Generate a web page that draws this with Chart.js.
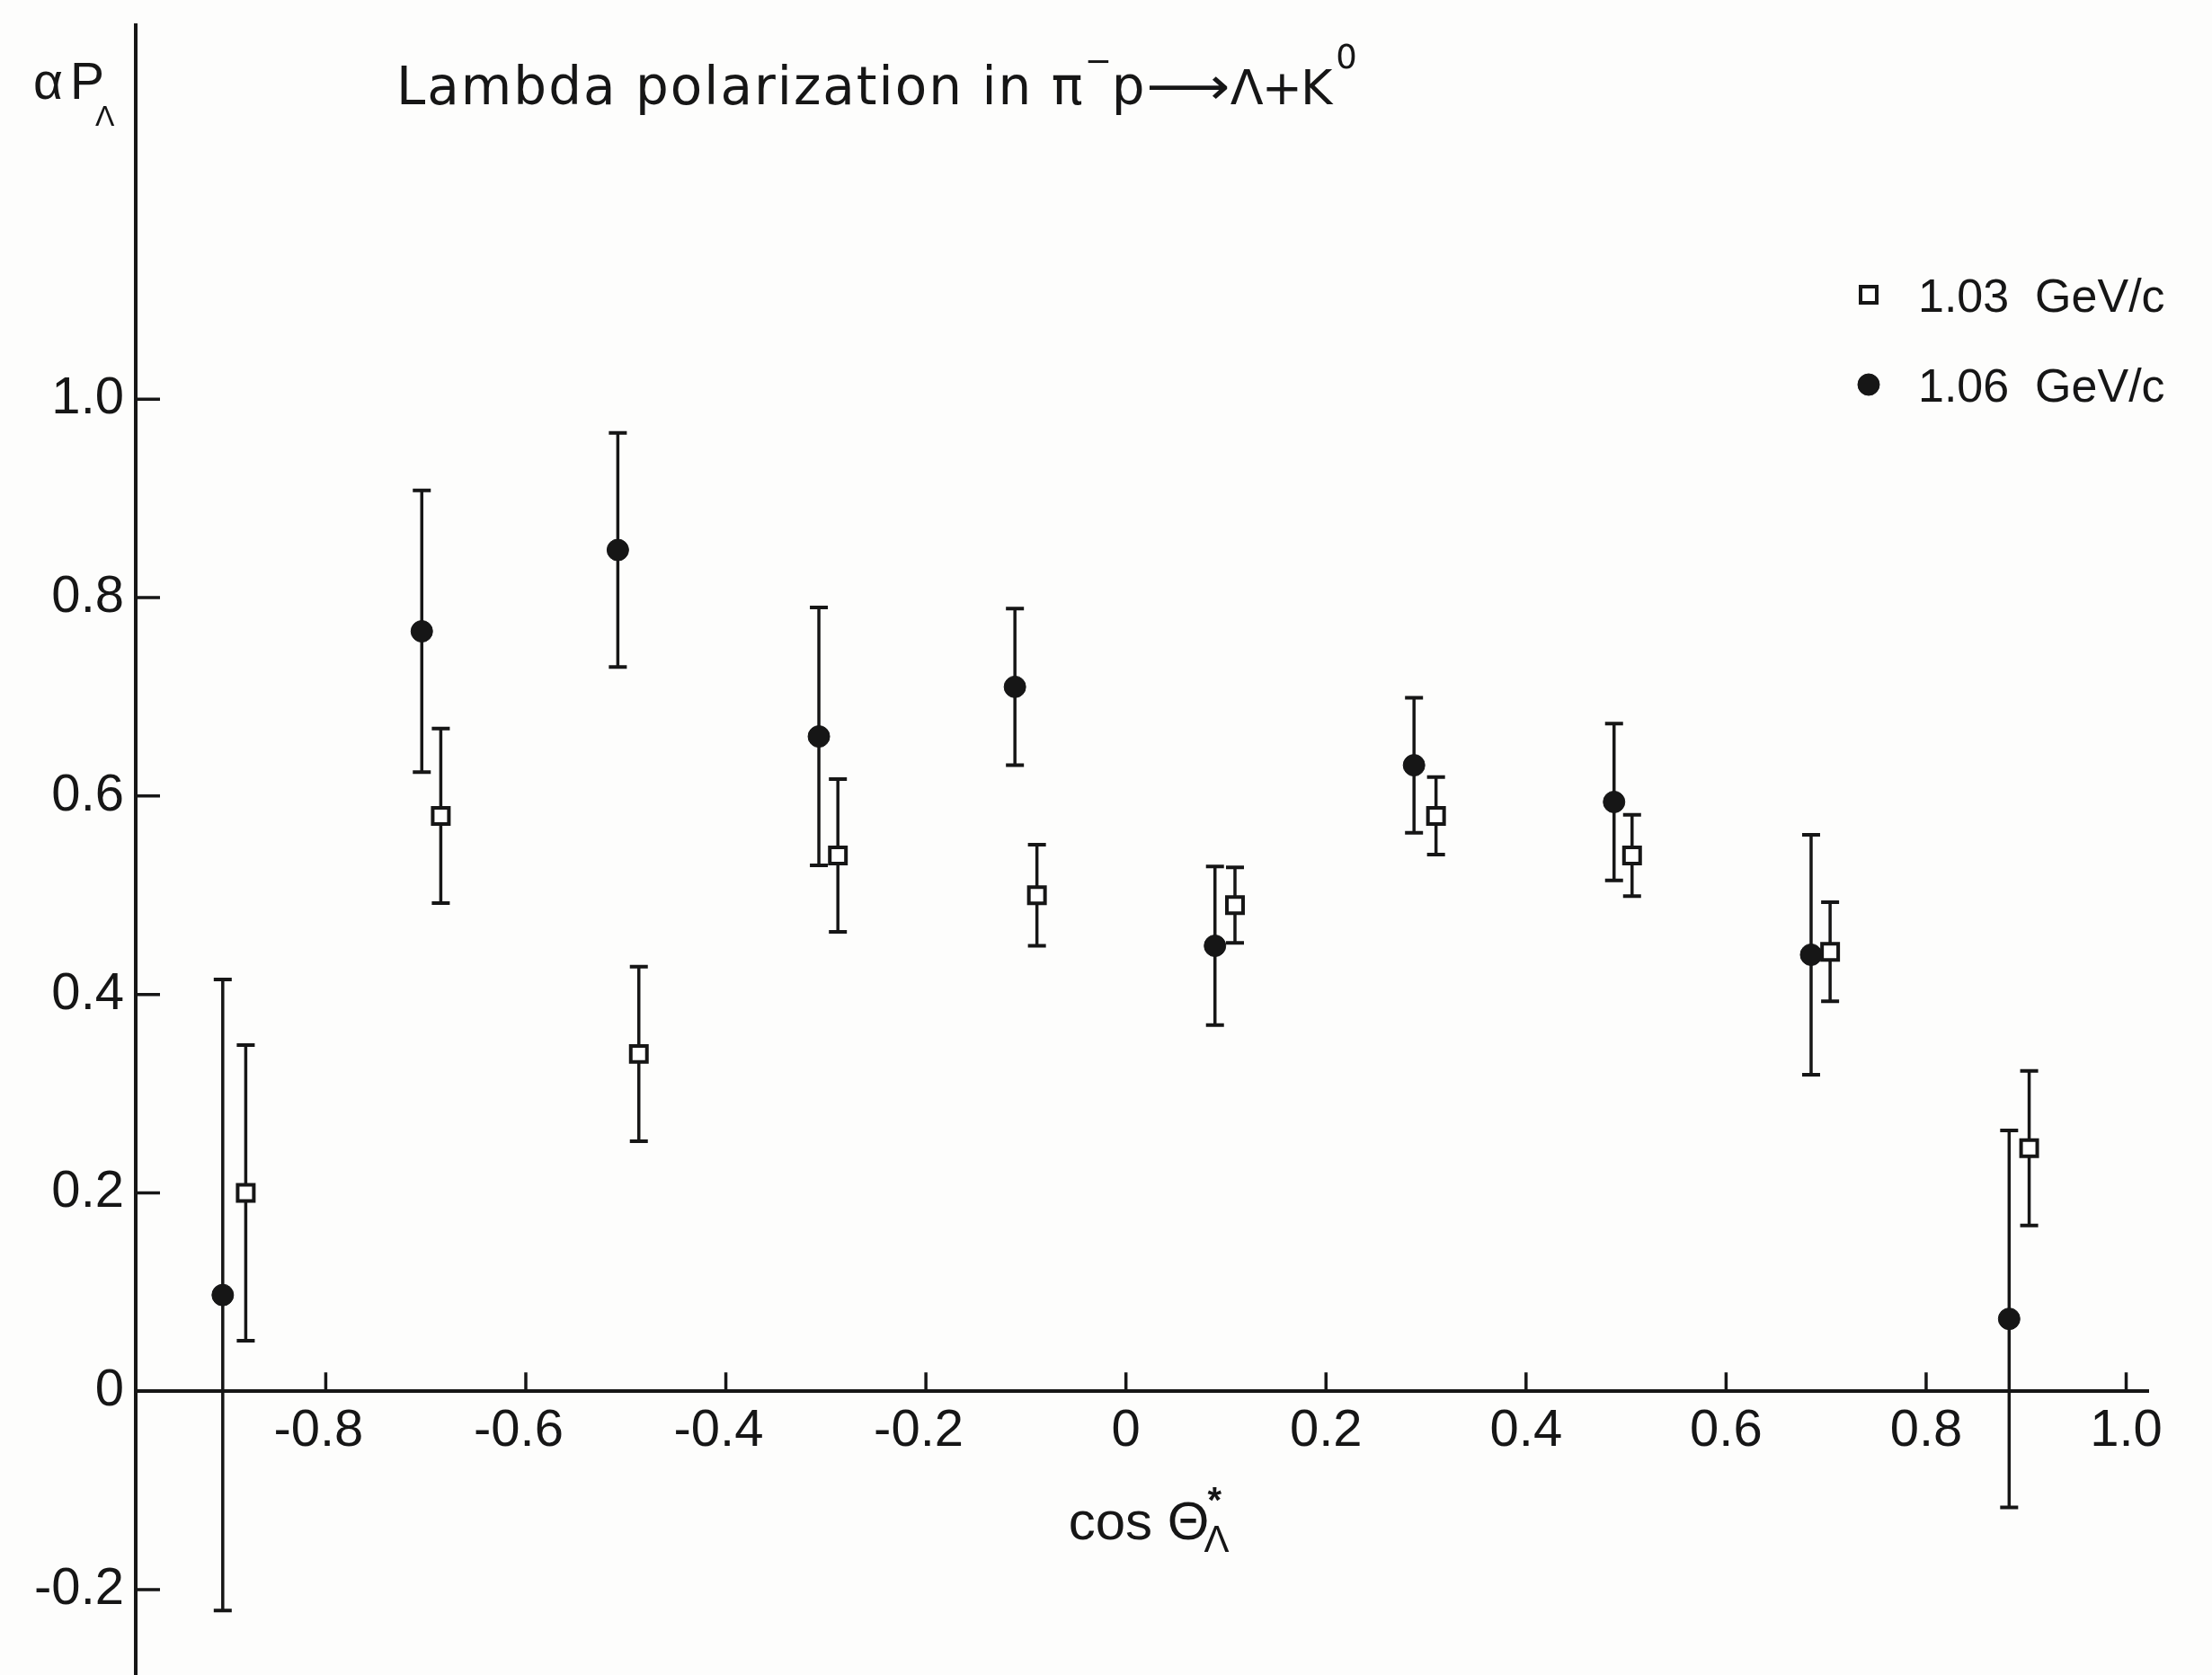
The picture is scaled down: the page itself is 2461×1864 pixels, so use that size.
<!DOCTYPE html>
<html>
<head>
<meta charset="utf-8">
<script src="https://cdn.jsdelivr.net/npm/chart.js@4.4.0/dist/chart.umd.min.js"></script>
<style>
  html, body { margin: 0; padding: 0; background: #fdfdfc; }
  #wrap { width: 2461px; height: 1864px; }
</style>
</head>
<body>
<div id="wrap"><canvas id="chart" width="2461" height="1864"></canvas></div>
<script>
const SANS = '"Liberation Sans", Arial, sans-serif';
const WIDE = '"DejaVu Sans", sans-serif';
const INK = '#161616';
const TICK_SIZE = 58;

// 1.03 GeV/c -- open squares
const cos103 = [-0.880, -0.685, -0.487, -0.288, -0.089, 0.109, 0.310, 0.506, 0.704, 0.903];
const pol103 = [0.200, 0.580, 0.340, 0.540, 0.500, 0.490, 0.580, 0.540, 0.443, 0.245];
const err103 = [0.149, 0.088, 0.088, 0.077, 0.051, 0.038, 0.039, 0.041, 0.050, 0.078];

// 1.06 GeV/c -- filled circles
const cos106 = [-0.903, -0.704, -0.508, -0.307, -0.111, 0.089, 0.288, 0.488, 0.685, 0.883];
const pol106 = [0.097, 0.766, 0.848, 0.660, 0.710, 0.449, 0.631, 0.594, 0.440, 0.073];
const err106 = [0.318, 0.142, 0.118, 0.130, 0.079, 0.080, 0.068, 0.079, 0.121, 0.190];

const xTicks = [-0.8, -0.6, -0.4, -0.2, 0, 0.2, 0.4, 0.6, 0.8, 1.0];
const yTicks = [-0.2, 0, 0.2, 0.4, 0.6, 0.8, 1.0];

const fmt = v => (Math.abs(v) < 1e-9 ? '0' : v.toFixed(1));

/** Draw text pieces left to right; each piece may carry its own size, shift and font */
function richText(ctx, parts, x, baseY) {
  let cx = x;
  ctx.textAlign = 'left';
  ctx.textBaseline = 'alphabetic';
  for (const p of parts) {
    ctx.font = `${p.bold ? 'bold ' : ''}${p.size}px ${p.font || SANS}`;
    ctx.letterSpacing = p.ls || '0px';
    const px = cx + (p.dx || 0);
    const w = ctx.measureText(p.t).width * (p.sx || 1);
    ctx.save();
    ctx.translate(px, baseY + (p.dy || 0));
    ctx.scale(p.sx || 1, 1);
    ctx.fillText(p.t, 0, 0);
    ctx.restore();
    if (!p.stay) cx = px + w;
  }
  ctx.letterSpacing = '0px';
}

const decor = {
  id: 'decor',
  beforeDatasetsDraw(chart) {
    const { ctx, chartArea, scales: { x, y } } = chart;
    const y0 = y.getPixelForValue(0);
    ctx.save();
    ctx.strokeStyle = INK;
    ctx.lineCap = 'butt';

    // tick marks pointing into the plot
    ctx.lineWidth = 3.5;
    ctx.beginPath();
    for (const v of yTicks) {
      if (v === 0) continue;
      const py = y.getPixelForValue(v);
      ctx.moveTo(chartArea.left, py);
      ctx.lineTo(chartArea.left + 27, py);
    }
    for (const v of xTicks) {
      const px = x.getPixelForValue(v);
      ctx.moveTo(px, y0);
      ctx.lineTo(px, y0 - 21);
    }
    ctx.stroke();

    // error bars
    chart.data.datasets.forEach((ds, i) => {
      const meta = chart.getDatasetMeta(i);
      meta.data.forEach((pt, j) => {
        const d = ds.data[j];
        const top = y.getPixelForValue(d.y + ds.errors[j]);
        const bot = y.getPixelForValue(d.y - ds.errors[j]);
        ctx.lineWidth = 3.5;
        ctx.beginPath();
        ctx.moveTo(pt.x, top);
        ctx.lineTo(pt.x, bot);
        ctx.stroke();
        ctx.lineWidth = 4;
        ctx.beginPath();
        ctx.moveTo(pt.x - 10, top);
        ctx.lineTo(pt.x + 10, top);
        ctx.moveTo(pt.x - 10, bot);
        ctx.lineTo(pt.x + 10, bot);
        ctx.stroke();
      });
    });
    ctx.restore();
  },
  afterDraw(chart) {
    const { ctx, scales: { x } } = chart;
    ctx.save();
    ctx.fillStyle = INK;

    // plot title
    richText(ctx, [
      { t: 'Lambda polarization in π', size: 58, font: WIDE, ls: '2px' },
      { t: '−', size: 36, font: WIDE, dy: -36, dx: 0 },
      { t: 'p', size: 58, font: WIDE, dx: 0 },
      { t: '⟶', size: 58, font: WIDE, dx: 2, sx: 1.12 },
      { t: 'Λ+K', size: 54, font: WIDE, dx: 0, ls: '-2px' },
      { t: '0', size: 37, font: WIDE, dy: -40, dx: 6 },
    ], 441, 116);

    // y axis label
    richText(ctx, [
      { t: 'α', size: 57 },
      { t: 'P', size: 57, dx: 8 },
      { t: 'Λ', size: 32, dy: 30, dx: -10 },
    ], 37, 110);

    // x axis label
    richText(ctx, [
      { t: 'cos Θ', size: 60 },
      { t: '*', size: 40, bold: true, dy: -30, dx: -2, stay: true },
      { t: 'Λ', size: 42, dy: 14, dx: -6 },
    ], x.getPixelForValue(0) - 64, 1713);

    // legend
    const entries = [
      { ds: 0, label: '1.03  GeV/c', yv: 328 },
      { ds: 1, label: '1.06  GeV/c', yv: 428 },
    ];
    for (const e of entries) {
      const ds = chart.data.datasets[e.ds];
      ctx.lineWidth = ds.pointBorderWidth;
      ctx.strokeStyle = ds.pointBorderColor;
      ctx.fillStyle = ds.pointBackgroundColor;
      Chart.helpers.drawPoint(ctx, {
        pointStyle: ds.pointStyle,
        radius: ds.pointRadius,
        borderWidth: ds.pointBorderWidth,
        rotation: 0,
      }, 2079, e.yv);
      ctx.fillStyle = INK;
      ctx.font = `52px ${SANS}`;
      ctx.textBaseline = 'alphabetic';
      ctx.textAlign = 'left';
      ctx.fillText(e.label, 2134, e.yv + 19);
    }
    ctx.restore();
  },
};

new Chart(document.getElementById('chart'), {
  type: 'scatter',
  data: {
    datasets: [
      {
        label: '1.03 GeV/c',
        data: cos103.map((c, i) => ({ x: c, y: pol103[i] })),
        errors: err103,
        pointStyle: 'rect',
        pointRadius: 12.7,
        pointBorderWidth: 4,
        pointBorderColor: INK,
        pointBackgroundColor: '#ffffff',
      },
      {
        label: '1.06 GeV/c',
        data: cos106.map((c, i) => ({ x: c, y: pol106[i] })),
        errors: err106,
        pointStyle: 'circle',
        pointRadius: 12,
        pointBorderWidth: 1,
        pointBorderColor: INK,
        pointBackgroundColor: INK,
      },
    ],
  },
  options: {
    responsive: false,
    animation: false,
    devicePixelRatio: 1,
    layout: { autoPadding: false, padding: { top: 28, right: 71, bottom: 0, left: 0 } },
    plugins: {
      legend: { display: false },
      title: { display: false },
      tooltip: { enabled: false },
    },
    scales: {
      x: {
        type: 'linear',
        position: { y: 0 },
        min: -0.99,
        max: 1.022,
        afterBuildTicks: s => { s.ticks = xTicks.map(v => ({ value: v })); },
        afterFit: s => { s.height = 0; s.paddingTop = 0; s.paddingBottom = 0; },
        grid: { drawOnChartArea: false, drawTicks: false },
        border: { display: true, color: INK, width: 4 },
        ticks: {
          color: INK,
          padding: 10,
          maxRotation: 0,
          autoSkip: false,
          font: { family: SANS, size: TICK_SIZE },
          // trailing space balances the minus sign so the digits sit on the tick
          callback: v => (v < 0 ? fmt(v) + ' ' : fmt(v)),
        },
      },
      y: {
        type: 'linear',
        position: 'left',
        min: -0.286,
        max: 1.377,
        afterBuildTicks: s => { s.ticks = yTicks.map(v => ({ value: v })); },
        afterFit: s => { s.width = 151; s.paddingTop = 0; s.paddingBottom = 0; },
        grid: { drawOnChartArea: false, drawTicks: false },
        border: { display: true, color: INK, width: 4 },
        ticks: {
          color: INK,
          padding: 13,
          autoSkip: false,
          font: { family: SANS, size: TICK_SIZE },
          callback: v => fmt(v),
        },
      },
    },
  },
  plugins: [decor],
});
</script>
</body>
</html>
